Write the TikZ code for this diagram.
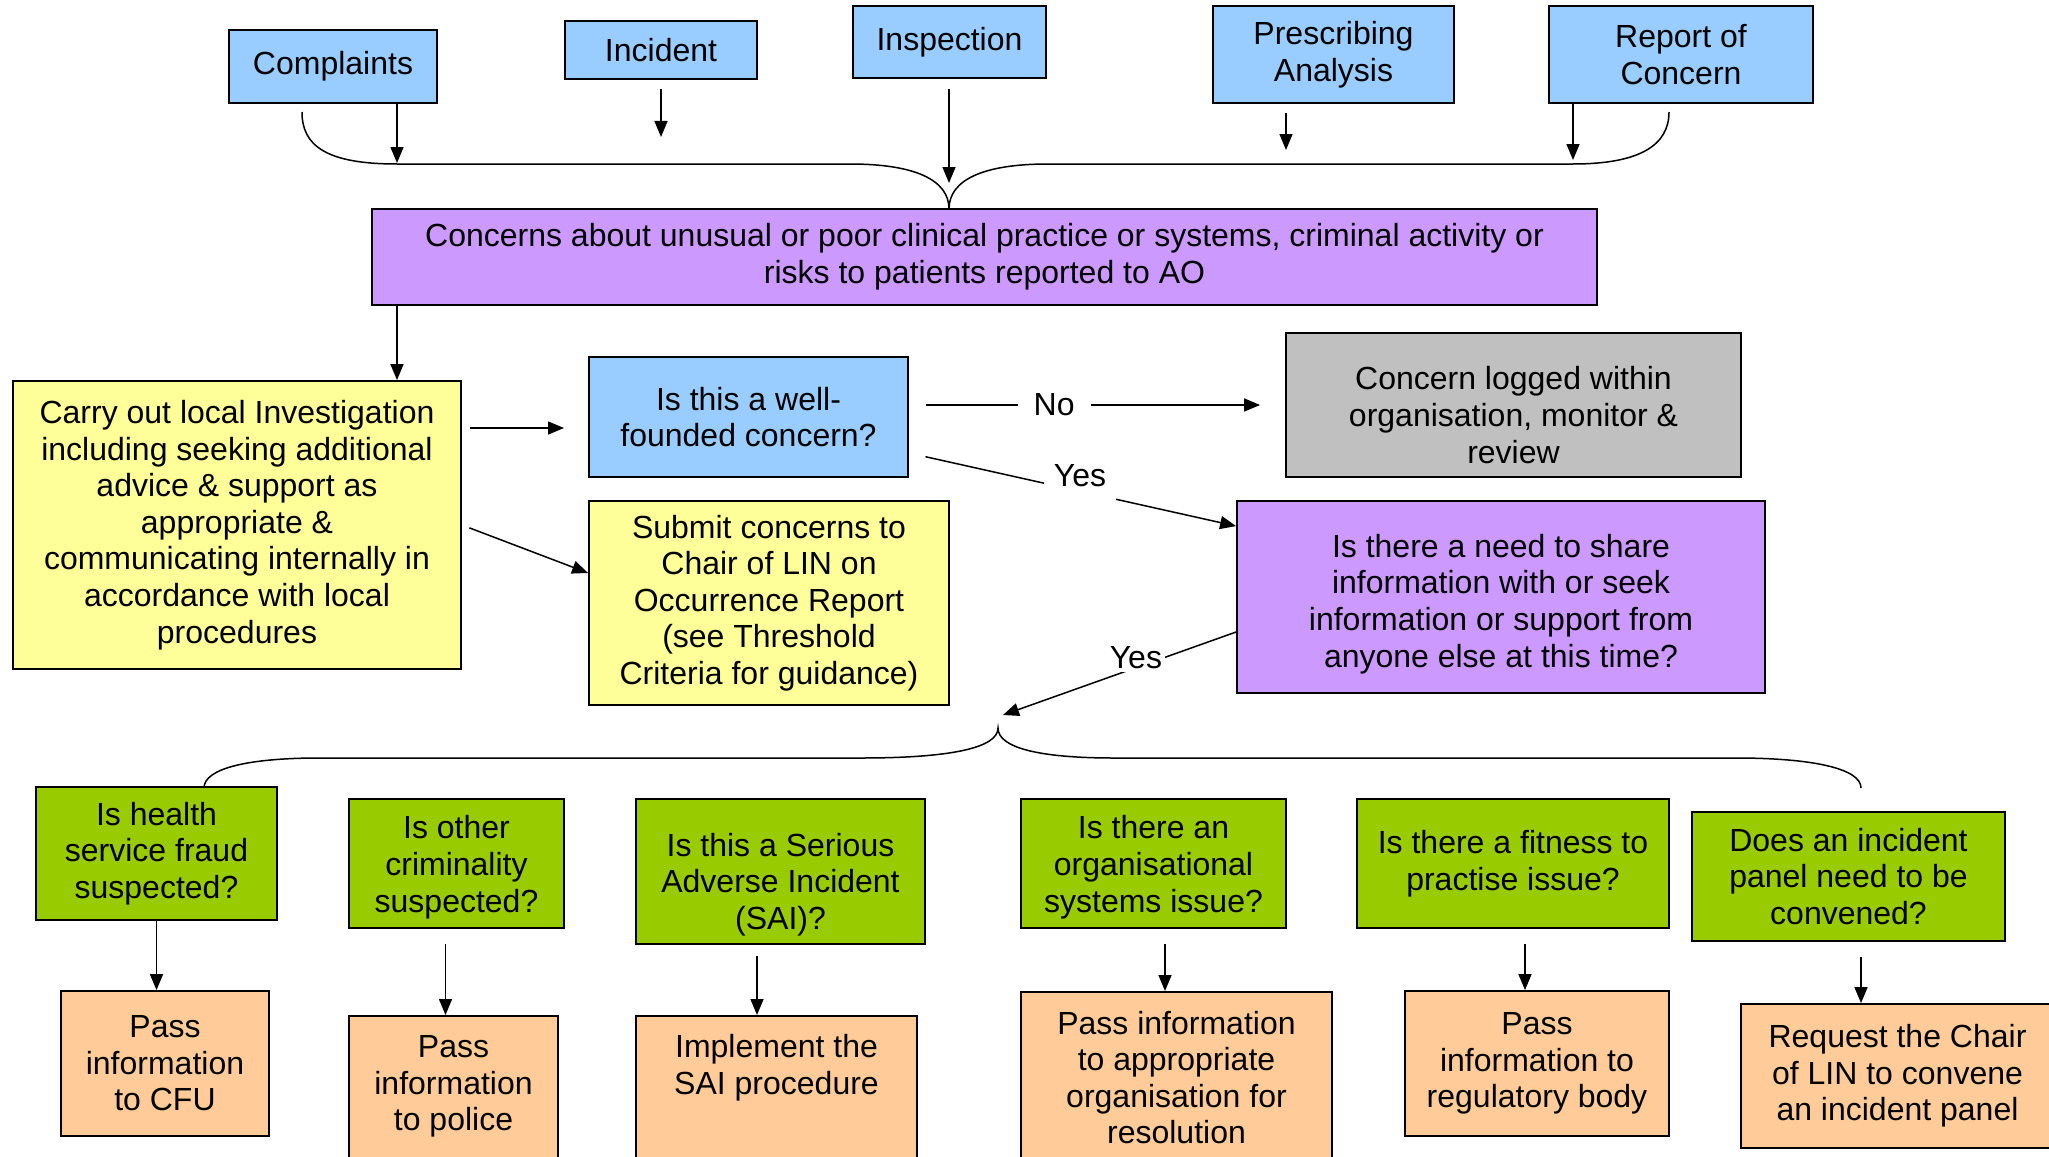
\documentclass[tikz,border=0pt]{standalone}
\usepackage{fontspec}
\setmainfont{Liberation Sans}
\usetikzlibrary{arrows.meta}

\definecolor{srcblue}{HTML}{99CCFF}
\definecolor{aolilac}{HTML}{CC99FF}
\definecolor{noteyellow}{HTML}{FFFF99}
\definecolor{loggrey}{HTML}{C0C0C0}
\definecolor{askgreen}{HTML}{99CC00}
\definecolor{actpeach}{HTML}{FFCC99}

\begin{document}
\begin{tikzpicture} [x=0.5pt, y=0.5pt,
    flowbox/.style={draw,line width=0.9pt,rectangle,align=center,inner sep=5pt,
        font=\fontsize{16pt}{18.3pt}\selectfont},
    srcbox/.style={flowbox,fill=srcblue},
    aobox/.style={flowbox,fill=aolilac},
    notebox/.style={flowbox,fill=noteyellow},
    logbox/.style={flowbox,fill=loggrey},
    askbox/.style={flowbox,fill=askgreen},
    actbox/.style={flowbox,fill=actpeach},
    cutbox/.style={actbox,anchor=north,text depth=100pt},
    flow/.style={-{Triangle[length=8pt,width=6.5pt]},line width=0.75pt},
    link/.style={line width=0.75pt},
    answer/.style={fill=white,font=\fontsize{16pt}{18.3pt}\selectfont}]
    \path[use as bounding box] (0,0) rectangle (2049,-1156);
    \clip (0,0) rectangle (2049,-1156);

    % where concerns come from
    \node[srcbox,minimum width=104pt,minimum height=36.5pt] (complaints) at (333,-66.5) {Complaints};
    \node[srcbox,minimum width=96pt,minimum height=29pt] (incident) at (661,-50) {Incident};
    \node[srcbox,minimum width=96.5pt,minimum height=36pt] (inspection) at (949.5,-42) {Inspection};
    \node[srcbox,minimum width=120.5pt,minimum height=48.5pt] (prescribing) at (1333.5,-54.5) {Prescribing\\Analysis};
    \node[srcbox,minimum width=132pt,minimum height=48.5pt] (report) at (1681,-54.5) {Report of\\Concern};

    \node[aobox,minimum width=612.5pt,minimum height=48pt] (concerns) at (984.5,-257)
        {Concerns about unusual or poor clinical practice or systems, criminal activity or\\risks to patients reported to AO};

    % local handling
    \node[notebox,minimum width=224pt,minimum height=144pt] (investigation) at (237,-525)
        {Carry out local Investigation\\including seeking additional\\advice \& support as\\appropriate \&\\communicating internally in\\accordance with local\\procedures};
    \node[srcbox,minimum width=159.5pt,minimum height=60pt] (wellfounded) at (748.5,-417) {Is this a well-\\founded concern?};
    \node[notebox,minimum width=180pt,minimum height=102pt] (submit) at (769,-603)
        {Submit concerns to\\Chair of LIN on\\Occurrence Report\\(see Threshold\\Criteria for guidance)};
    \node[logbox,minimum width=227.5pt,minimum height=72pt,text height=58pt,text depth=0pt] (logged) at (1513.5,-405)
        {Concern logged within\\organisation, monitor \&\\review};
    \node[aobox,minimum width=264pt,minimum height=96pt,text height=70pt,text depth=0pt] (share) at (1501,-597)
        {Is there a need to share\\information with or seek\\information or support from\\anyone else at this time?};

    % questions
    \node[askbox,minimum width=120.5pt,minimum height=66.5pt] (health) at (156.5,-853.5) {Is health\\service fraud\\suspected?};
    \node[askbox,minimum width=107.5pt,minimum height=64.5pt,text height=48.5pt,text depth=0pt] (crime) at (456.5,-863.5) {Is other\\criminality\\suspected?};
    \node[askbox,minimum width=144.5pt,minimum height=72.5pt,text height=58pt,text depth=0pt] (sai) at (780.5,-871.5) {Is this a Serious\\Adverse Incident\\(SAI)?};
    \node[askbox,minimum width=132.5pt,minimum height=64.5pt,text height=48.5pt,text depth=0pt] (systems) at (1153.5,-863.5) {Is there an\\organisational\\systems issue?};
    \node[askbox,minimum width=156pt,minimum height=64.5pt] (fitness) at (1513,-863.5) {Is there a fitness to\\practise issue?};
    \node[askbox,minimum width=156.5pt,minimum height=64.5pt] (panel) at (1848.5,-876.5) {Does an incident\\panel need to be\\convened?};

    % actions
    \node[actbox,minimum width=104pt,minimum height=72.5pt] (cfu) at (165,-1063.5) {Pass\\information\\to CFU};
    \node[cutbox,minimum width=104.5pt,text height=52.5pt] (police) at (453.5,-1015) {Pass\\information\\to police};
    \node[cutbox,minimum width=140.5pt,text height=34.3pt] (saiproc) at (776.5,-1015) {Implement the\\SAI procedure};
    \node[cutbox,minimum width=155.5pt,text height=71pt] (resolution) at (1176.5,-991) {Pass information\\to appropriate\\organisation for\\resolution};
    \node[actbox,minimum width=132pt,minimum height=72.5pt] (regulator) at (1537,-1063.5) {Pass\\information to\\regulatory body};
    \node[actbox,minimum width=156.5pt,minimum height=72pt] (chair) at (1897.5,-1076) {Request the Chair\\of LIN to convene\\an incident panel};

    % free ends
    \coordinate (in-complaints) at (397,-163);
    \coordinate (in-incident) at (661,-137);
    \coordinate (in-inspection) at (949,-183);
    \coordinate (in-prescribing) at (1286,-150);
    \coordinate (in-report) at (1573,-160);
    \coordinate (gather) at (949,-209);
    \coordinate (to-check) at (564,-428);
    \coordinate (yesend) at (1003,-715);
    \coordinate (spread) at (998,-728);
    \coordinate (police-in) at ([xshift=-4pt]police.north);
    \coordinate (sai-in) at ([xshift=-9.75pt]saiproc.north);
    \coordinate (resolution-in) at ([xshift=-5.75pt]resolution.north);
    \coordinate (regulator-in) at ([xshift=-6pt]regulator.north);
    \coordinate (chair-in) at ([xshift=-18.25pt]chair.north);

    % braces
    \draw[link] (302,-112) .. controls (302,-145) and (325,-164) .. (397,-164) -- (850,-164)
        .. controls (915,-164) and (949,-180) .. (gather)
        .. controls (949,-180) and (983,-164) .. (1048,-164) -- (1573,-164)
        .. controls (1640,-164) and (1669,-145) .. (1669,-112);
    \draw[link] (204,-788) .. controls (204,-768) and (250,-758) .. (319,-758) -- (861,-758)
        .. controls (950,-758) and (998,-748) .. (spread)
        .. controls (998,-748) and (1040,-758) .. (1114,-758) -- (1736,-758)
        .. controls (1810,-758) and (1861,-768) .. (1861,-788);

    \draw[flow] (complaints.south -| in-complaints) -- (in-complaints);
    \draw[flow,shorten <=4.5pt] (incident.south -| in-incident) -- (in-incident);
    \draw[flow,shorten <=5pt] (inspection.south -| in-inspection) -- (in-inspection);
    \draw[flow,shorten <=4.5pt] (prescribing.south -| in-prescribing) -- (in-prescribing);
    \draw[flow] (report.south -| in-report) -- (in-report);

    \draw[flow] (concerns.south -| in-complaints) -- (investigation.north -| in-complaints);
    \draw[flow,shorten <=4pt] (investigation.east |- to-check) -- (to-check);
    \draw[flow,shorten <=4pt] (investigation.east) -- ([yshift=15pt]submit.west);
    \draw[flow,shorten <=8.5pt,shorten >=12.5pt] (wellfounded.east |- logged.west)
        -- node[answer,pos=0.386,inner xsep=8pt] {No} (logged.west);
    \draw[flow,shorten <=8.5pt] ([yshift=-18pt]wellfounded.east)
        -- node[answer,pos=0.523,yshift=8pt,inner xsep=5pt,inner ysep=8pt] {Yes} ([yshift=-13pt]share.north west);
    \draw[flow] ([yshift=-17.5pt]share.west) -- node[answer,pos=0.43,yshift=5pt,inner sep=1.5pt] {Yes} (yesend);

    \draw[flow] (health.south) -- (health.south |- cfu.north);
    \draw[flow,shorten <=7.5pt] (crime.south -| police-in) -- (police-in);
    \draw[flow,shorten <=5.5pt] (sai.south -| sai-in) -- (sai-in);
    \draw[flow,shorten <=7.5pt] (systems.south -| resolution-in) -- (resolution-in);
    \draw[flow,shorten <=7.5pt] (fitness.south -| regulator-in) -- (regulator-in);
    \draw[flow,shorten <=7.5pt] (panel.south -| chair-in) -- (chair-in);
\end{tikzpicture}
\end{document}
